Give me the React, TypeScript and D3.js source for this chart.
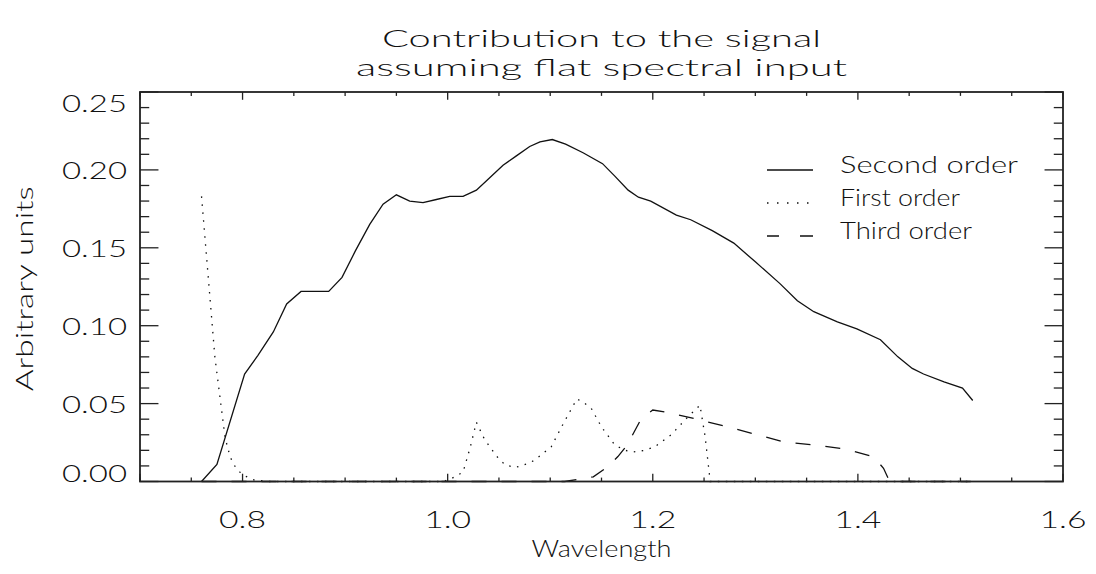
import React from "react";
import * as d3 from "d3";

const titleLines = ["Contribution to the signal", "assuming flat spectral input"];
const xLabel = "Wavelength";
const yLabel = "Arbitrary units";

const xMajorTicks = [0.8, 1.0, 1.2, 1.4, 1.6];
const yMajorTicks = [0.0, 0.05, 0.1, 0.15, 0.2, 0.25];

const secondWave = [0.760, 0.775, 0.802, 0.815, 0.830, 0.843, 0.857, 0.884, 0.897, 0.910, 0.924, 0.937, 0.950, 0.963, 0.976, 0.989, 1.002, 1.015, 1.028, 1.041, 1.054, 1.067, 1.080, 1.090, 1.102, 1.115, 1.132, 1.151, 1.163, 1.176, 1.186, 1.198, 1.223, 1.237, 1.258, 1.279, 1.300, 1.324, 1.341, 1.357, 1.380, 1.399, 1.422, 1.439, 1.453, 1.464, 1.484, 1.502, 1.512];
const secondVals = [0.000, 0.011, 0.069, 0.081, 0.096, 0.114, 0.122, 0.122, 0.131, 0.148, 0.165, 0.178, 0.184, 0.180, 0.179, 0.181, 0.183, 0.183, 0.187, 0.195, 0.203, 0.209, 0.215, 0.218, 0.2195, 0.2165, 0.211, 0.204, 0.196, 0.187, 0.1825, 0.180, 0.171, 0.168, 0.161, 0.153, 0.141, 0.127, 0.116, 0.109, 0.1025, 0.098, 0.091, 0.080, 0.0726, 0.069, 0.064, 0.060, 0.052];

const firstWave = [0.760, 0.773, 0.783, 0.788, 0.794, 0.801, 0.811, 0.825, 0.996, 1.004, 1.015, 1.022, 1.028, 1.036, 1.048, 1.056, 1.066, 1.079, 1.085, 1.101, 1.111, 1.121, 1.126, 1.132, 1.140, 1.150, 1.163, 1.173, 1.181, 1.192, 1.202, 1.218, 1.233, 1.246, 1.251, 1.256, 1.510];
const firstVals = [0.183, 0.080, 0.028, 0.0156, 0.008, 0.004, 0.001, 0.000, 0.000, 0.002, 0.006, 0.022, 0.038, 0.027, 0.016, 0.0106, 0.009, 0.0117, 0.0138, 0.0223, 0.035, 0.047, 0.053, 0.051, 0.047, 0.035, 0.0234, 0.020, 0.019, 0.020, 0.0223, 0.030, 0.0406, 0.049, 0.029, 0.000, 0.000];

const thirdWave = [0.760, 1.114, 1.129, 1.142, 1.155, 1.166, 1.175, 1.189, 1.200, 1.2135, 1.243, 1.272, 1.300, 1.329, 1.358, 1.387, 1.415, 1.425, 1.431, 1.510];
const thirdVals = [0.000, 0.000, 0.0016, 0.003, 0.009, 0.016, 0.0234, 0.0406, 0.0459, 0.0444, 0.040, 0.0352, 0.0303, 0.0252, 0.0234, 0.0209, 0.016, 0.0085, 0.000, 0.000];

const legendLabels = ["Second order", "First order", "Third order"];

const W = 1096;
const H = 574;
const left = 140, right = 1063, top = 92, bottom = 481.5;
const FONT = "Lato, Roboto, 'DejaVu Sans', sans-serif";

export default function App() {
  const x = d3.scaleLinear().domain([0.7, 1.6]).range([left, right]);
  const y = d3.scaleLinear().domain([0, 0.25]).range([bottom, top]);
  const line = d3.line<[number, number]>().x((d) => x(d[0])).y((d) => y(d[1]));
  const zip = (a: number[], b: number[]) => a.map((v, i) => [v, b[i]] as [number, number]);

  const xMinor = d3.range(0.7, 1.6001, 0.05).filter((v) => !xMajorTicks.some((m) => Math.abs(m - v) < 1e-6));
  const yMinor = d3.range(0, 0.2501, 0.01).filter((v) => !yMajorTicks.some((m) => Math.abs(m - v) < 1e-6));
  const plotH = bottom - top, plotW = right - left;
  const xMajLen = plotH * 0.02, xMinLen = xMajLen / 2;
  const yMajLen = plotW * 0.02, yMinLen = yMajLen / 2;

  const series = [
    { d: line(zip(secondWave, secondVals)), dash: undefined },
    { d: line(zip(firstWave, firstVals)), dash: "1.5 6.5" },
    { d: line(zip(thirdWave, thirdVals)), dash: "15 15" },
  ];
  const legendDash = [undefined, "1.5 8.5", "12 21 14"];
  const legendWidths = [178, 120, 132];
  const titleWidths = [439, 491];
  const cx = (left + right) / 2;
  const adj = "spacingAndGlyphs";

  const txt = { fontFamily: FONT, fontWeight: 300, fill: "#111" } as React.CSSProperties;

  return (
    <svg width={W} height={H} style={{ position: "absolute", left: 0, top: 0, background: "#fff" }}>
      <rect x={0} y={0} width={W} height={H} fill="#fff" />
      {titleLines.map((t, i) => (
        <text key={t} x={cx} y={47 + i * 29} textAnchor="middle" fontSize={24} textLength={titleWidths[i]} lengthAdjust={adj} style={txt}>{t}</text>
      ))}
      <g stroke="#222" strokeWidth={1.3}>
        {xMajorTicks.concat([0.7]).map((v) => (
          <g key={"xM" + v}>
            <line x1={x(v)} x2={x(v)} y1={bottom} y2={bottom - xMajLen} />
            <line x1={x(v)} x2={x(v)} y1={top} y2={top + xMajLen} />
          </g>
        ))}
        {xMinor.map((v) => (
          <g key={"xm" + v}>
            <line x1={x(v)} x2={x(v)} y1={bottom} y2={bottom - xMinLen} />
            <line x1={x(v)} x2={x(v)} y1={top} y2={top + xMinLen} />
          </g>
        ))}
        {yMajorTicks.map((v) => (
          <g key={"yM" + v}>
            <line x1={left} x2={left + yMajLen} y1={y(v)} y2={y(v)} />
            <line x1={right} x2={right - yMajLen} y1={y(v)} y2={y(v)} />
          </g>
        ))}
        {yMinor.map((v) => (
          <g key={"ym" + v}>
            <line x1={left} x2={left + yMinLen} y1={y(v)} y2={y(v)} />
            <line x1={right} x2={right - yMinLen} y1={y(v)} y2={y(v)} />
          </g>
        ))}
      </g>
      {series.map((s, i) => (
        <path key={i} d={s.d || ""} fill="none" stroke="#111" strokeWidth={1.3} strokeDasharray={s.dash} />
      ))}
      <rect x={left} y={top} width={plotW} height={plotH} fill="none" stroke="#222" strokeWidth={1.8} />
      {xMajorTicks.map((v) => (
        <text key={"xl" + v} x={x(v)} y={528} textAnchor="middle" fontSize={24} textLength={47} lengthAdjust={adj} style={txt}>{v.toFixed(1)}</text>
      ))}
      {yMajorTicks.map((v) => (
        <text key={"yl" + v} x={127} y={Math.min(Math.max(y(v), top + 10), bottom - 9.5)} textAnchor="end" dominantBaseline="central" fontSize={24} textLength={65} lengthAdjust={adj} style={txt}>{v.toFixed(2)}</text>
      ))}
      <text x={cx} y={557} textAnchor="middle" fontSize={24} textLength={140} lengthAdjust={adj} style={txt}>{xLabel}</text>
      <text transform={`translate(33, ${(top + bottom) / 2 + 2}) rotate(-90)`} textAnchor="middle" fontSize={24} textLength={205} lengthAdjust={adj} style={txt}>{yLabel}</text>
      {legendLabels.map((l, i) => {
        const by = [173, 206, 239][i];
        return (
          <g key={l}>
            <line x1={767} x2={813} y1={by - 3} y2={by - 3} stroke="#111" strokeWidth={1.3} strokeDasharray={legendDash[i]} />
            <text x={840} y={by} fontSize={24} textLength={legendWidths[i]} lengthAdjust={adj} style={txt}>{l}</text>
          </g>
        );
      })}
    </svg>
  );
}
